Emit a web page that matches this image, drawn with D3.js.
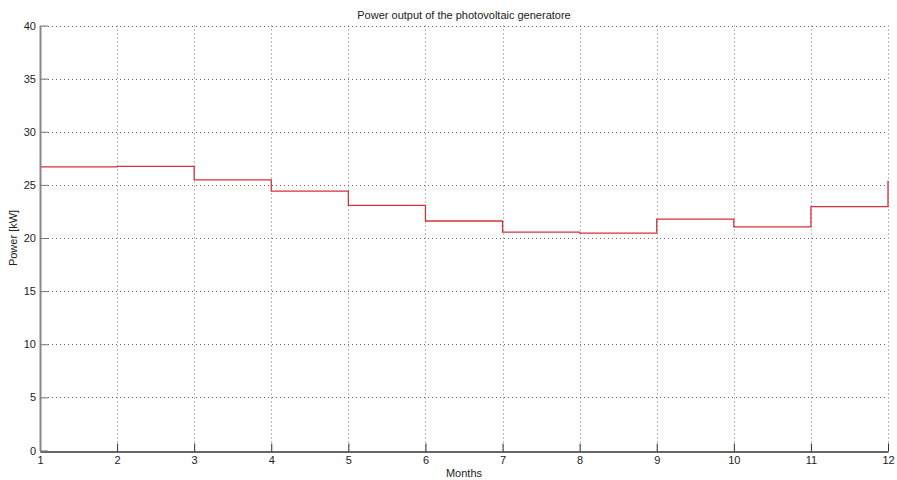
<!DOCTYPE html>
<html>
<head>
<meta charset="utf-8">
<script src="https://cdn.jsdelivr.net/npm/d3@7"></script>
<style>
  html, body { margin: 0; padding: 0; background: #fff; }
  svg { display: block; }
  text { font-family: "Liberation Sans", Arial, sans-serif; fill: #222; }
</style>
</head>
<body>
<svg id="chart" width="897" height="480"></svg>
<script>
// Monthly power output (kW), drawn as a staircase
const months = [1, 2, 3, 4, 5, 6, 7, 8, 9, 10, 11, 12];
const power = [26.7, 26.75, 25.47, 24.42, 23.07, 21.6, 20.55, 20.45, 21.78, 21.05, 22.95, 25.4];
const yTicks = [0, 5, 10, 15, 20, 25, 30, 35, 40];
const xTicks = months;

const W = 897, H = 480;
const margin = { left: 40, right: 9, top: 25.5, bottom: 29.5 };

const svg = d3.select("#chart");

const x = d3.scaleLinear().domain([1, 12]).range([margin.left, W - margin.right]);
const y = d3.scaleLinear().domain([0, 40]).range([H - margin.bottom, margin.top]);

// grid lines
const grid = svg.append("g");
grid.selectAll("line.hg").data(yTicks.filter(d => d > 0)).join("line")
  .attr("x1", x(1)).attr("x2", x(12))
  .attr("y1", d => Math.round(y(d)) + 0.5).attr("y2", d => Math.round(y(d)) + 0.5)
  .attr("stroke", "#666").attr("stroke-width", 1).attr("stroke-dasharray", "1,3");
grid.selectAll("line.vg").data(xTicks.filter(d => d > 1)).join("line")
  .attr("x1", d => Math.round(x(d)) + 0.5).attr("x2", d => Math.round(x(d)) + 0.5)
  .attr("y1", y(40)).attr("y2", y(0))
  .attr("stroke", "#777").attr("stroke-width", 1).attr("stroke-dasharray", "1,3");

// step line
const line = d3.line()
  .x(d => x(d[0]))
  .y(d => y(d[1]))
  .curve(d3.curveStepAfter);
svg.append("path")
  .datum(months.map((m, i) => [m, power[i]]))
  .attr("d", line)
  .attr("fill", "none")
  .attr("stroke", "#d2333c")
  .attr("stroke-width", 1.3);

// x axis
const xAxis = d3.axisBottom(x).tickValues(xTicks).tickSizeInner(-8).tickSizeOuter(0).tickPadding(5)
  .tickFormat(d3.format("d"));
const gx = svg.append("g").attr("transform", `translate(0,${Math.round(y(0)) + 0.5})`).call(xAxis);
gx.select(".domain").attr("stroke", "#333").attr("stroke-width", 1.3);
gx.selectAll(".tick line").attr("stroke", "#333");
gx.selectAll(".tick text").attr("font-size", 11).attr("fill", "#222");

// y axis
const yAxis = d3.axisLeft(y).tickValues(yTicks).tickSizeInner(-8).tickSizeOuter(0).tickPadding(4);
const gy = svg.append("g").attr("transform", `translate(${margin.left},0)`).call(yAxis);
gy.select(".domain").attr("stroke", "#888").attr("stroke-width", 2);
gy.selectAll(".tick line").attr("stroke", "#777");
gy.selectAll(".tick text").attr("font-size", 11).attr("fill", "#222");

// titles
svg.append("text").attr("x", (x(1) + x(12)) / 2).attr("y", 19)
  .attr("text-anchor", "middle").attr("font-size", 11).text("Power output of the photovoltaic generatore");
svg.append("text").attr("x", (x(1) + x(12)) / 2).attr("y", 477)
  .attr("text-anchor", "middle").attr("font-size", 11).text("Months");
svg.append("text")
  .attr("transform", `translate(17,${(y(0) + y(40)) / 2}) rotate(-90)`)
  .attr("text-anchor", "middle").attr("font-size", 11).text("Power [kW]");
</script>
</body>
</html>
